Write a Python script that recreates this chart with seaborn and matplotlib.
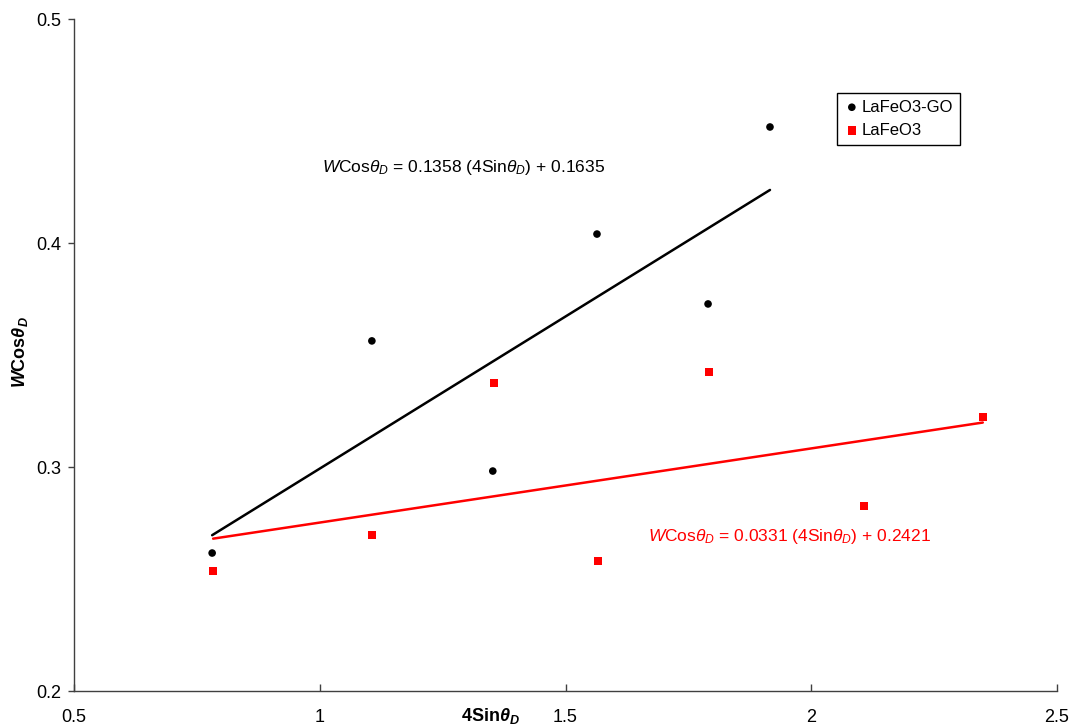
import numpy as np
import pandas as pd
import matplotlib
matplotlib.use('Agg')
import matplotlib.pyplot as plt
import seaborn as sns

# data
go_x = [0.781, 1.106, 1.352, 1.564, 1.790, 1.916]
go_y = [0.2616, 0.3563, 0.2982, 0.4040, 0.3728, 0.4518]

lfo_x = [0.783, 1.106, 1.355, 1.566, 1.792, 2.107, 2.349]
lfo_y = [0.2536, 0.2696, 0.3375, 0.2580, 0.3424, 0.2826, 0.3223]

# linear fits (slope, intercept) as printed on the chart
go_fit = (0.1358, 0.1635)
lfo_fit = (0.0331, 0.2421)

x_ticks = [0.5, 1, 1.5, 2, 2.5]
x_tick_labels = ['0.5', '1', '1.5', '2', '2.5']
y_ticks = [0.2, 0.3, 0.4, 0.5]
y_tick_labels = ['0.2', '0.3', '0.4', '0.5']

sns.set_style('white')
plt.rcParams['font.family'] = ['Liberation Sans', 'DejaVu Sans']
plt.rcParams['text.color'] = 'black'
plt.rcParams['axes.labelcolor'] = 'black'
plt.rcParams['mathtext.fontset'] = 'custom'
plt.rcParams['mathtext.rm'] = 'Liberation Sans'
plt.rcParams['mathtext.it'] = 'Liberation Sans:italic'
plt.rcParams['mathtext.bf'] = 'Liberation Sans:bold'
plt.rcParams['mathtext.bfit'] = 'Liberation Sans:bold:italic'

fig = plt.figure(figsize=(10.73, 7.26), dpi=100)
ax = fig.add_axes([0.069, 0.0482, 0.9161, 0.9256])

df_go = pd.DataFrame({'x': go_x, 'y': go_y})
df_lfo = pd.DataFrame({'x': lfo_x, 'y': lfo_y})

sns.scatterplot(data=df_go, x='x', y='y', ax=ax, color='black', marker='o',
                s=30, edgecolor='none', label='LaFeO3-GO', zorder=3)
sns.scatterplot(data=df_lfo, x='x', y='y', ax=ax, color='#ff0000', marker='s',
                s=36, edgecolor='none', label='LaFeO3', zorder=3)

# fit lines over the data range
fx = np.array([min(go_x), max(go_x)])
sns.lineplot(x=fx, y=go_fit[0] * fx + go_fit[1], ax=ax, color='black',
             linewidth=1.8, legend=False)
fx2 = np.array([min(lfo_x), max(lfo_x)])
sns.lineplot(x=fx2, y=lfo_fit[0] * fx2 + lfo_fit[1], ax=ax, color='#ff0000',
             linewidth=1.8, legend=False)

ax.text(1.005, 0.4335, r'$\mathit{W}$Cos$\mathit{\theta_D}$ = 0.1358 (4Sin$\mathit{\theta_D}$) + 0.1635',
        fontsize=12.5, color='black', va='center', ha='left')
ax.text(1.668, 0.2692, r'$\mathit{W}$Cos$\mathit{\theta_D}$ = 0.0331 (4Sin$\mathit{\theta_D}$) + 0.2421',
        fontsize=12.5, color='#ff0000', va='center', ha='left')

ax.set_xlim(0.5, 2.5)
ax.set_ylim(0.2, 0.5)
ax.set_xticks(x_ticks)
ax.set_xticklabels(x_tick_labels)
ax.set_yticks(y_ticks)
ax.set_yticklabels(y_tick_labels)

for s in ['top', 'right']:
    ax.spines[s].set_visible(False)
for s in ['left', 'bottom']:
    ax.spines[s].set_color('#404040')
    ax.spines[s].set_linewidth(1.0)

ax.tick_params(axis='x', direction='in', length=5, width=1, color='#404040',
               labelsize=13, labelcolor='black', pad=13, bottom=True)
ax.tick_params(axis='y', direction='out', length=4.5, width=1, color='#404040',
               labelsize=13, labelcolor='black', pad=5, left=True)

ax.set_xlabel(r'$\mathbf{4Sin}\mathbfit{\theta_D}$', fontsize=13, color='black')
ax.xaxis.label.set_va('center')
ax.xaxis.set_label_coords(0.424, -0.037)
ax.set_ylabel(r'$\mathbfit{W}\mathbf{Cos}\mathbfit{\theta_D}$', fontsize=13, color='black')
ax.yaxis.label.set_va('center')
ax.yaxis.set_label_coords(-0.055, 0.504)

leg = ax.legend(loc='upper left', bbox_to_anchor=(0.776, 0.89), fontsize=12,
                frameon=True, fancybox=False, framealpha=1, edgecolor='black',
                handletextpad=0.1, handlelength=1.0, borderpad=0.4,
                labelspacing=0.5, borderaxespad=0)
leg.get_frame().set_linewidth(1.0)
for t in leg.get_texts():
    t.set_color('black')

fig.savefig('out.png', dpi=100)
